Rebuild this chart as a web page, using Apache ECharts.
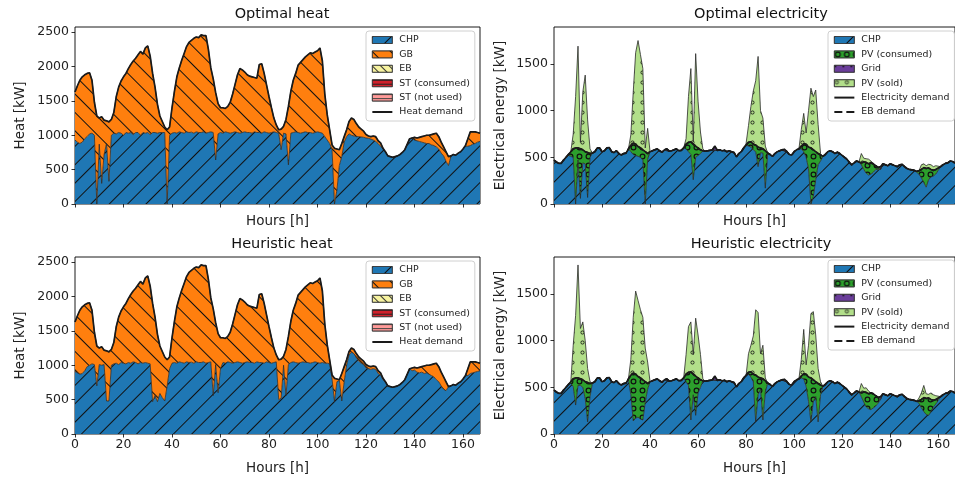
<!DOCTYPE html>
<html><head><meta charset="utf-8">
<script src="https://cdn.jsdelivr.net/npm/echarts@6/dist/echarts.min.js"></script>
<style>html,body{margin:0;padding:0;background:#fff}#c{width:955px;height:477px}</style>
</head><body><div id="c"></div>
<script>
// ---------------- DATA (hour 0..167) ----------------
const hours = Array.from({length: 168}, (_, i) => i);
const xTicks = [0, 20, 40, 60, 80, 100, 120, 140, 160];
const heatTicks = [0, 500, 1000, 1500, 2000, 2500];
const elecTicks = [0, 500, 1000, 1500];

const heatDemand = [
1630,1720,1800,1850,1880,1900,1910,1800,1480,1280,1250,1270,
1220,1210,1195,1230,1330,1560,1700,1790,1850,1900,1970,2030,
2080,2120,2170,2220,2180,2270,2300,2150,1900,1700,1450,1280,
1200,1120,1080,1120,1400,1640,1850,1980,2090,2190,2290,2350,
2380,2410,2430,2420,2460,2450,2450,2250,1980,1820,1620,1460,
1400,1400,1390,1420,1480,1600,1740,1880,1970,1950,1920,1880,
1860,1850,1840,1830,2030,2040,1900,1730,1560,1400,1250,1150,
1080,1090,1130,1230,1420,1640,1800,1900,2020,2060,2100,2140,
2170,2200,2190,2210,2230,2270,2080,1600,1300,1080,860,810,
800,790,880,980,1080,1200,1250,1230,1170,1120,1090,1060,
1010,990,980,990,980,920,890,810,760,700,690,680,
690,700,720,750,790,870,950,960,970,960,970,980,
990,1000,1000,1010,1020,1030,980,900,830,760,690,700,
720,710,740,760,800,850,950,1050,1050,1050,1040,1030];

const chpHeatOpt = [
930,900,880,900,950,980,1020,1030,1000,0,870,300,
720,880,330,1000,1030,1020,1040,1030,1000,1040,1030,1040,
1010,1040,1040,1000,1040,1030,1040,1010,1040,1040,1030,1040,
1040,1040,0,1000,1030,1040,1030,1050,1040,1030,1050,1040,
1045,1030,1050,1040,1040,1050,1030,1040,1050,1040,640,1020,
1040,1030,1050,1040,1030,1040,1050,1040,1030,1040,1050,1040,
1040,1030,1050,1040,1040,1030,1050,1040,1030,1040,1050,1040,
1030,790,1030,1020,570,1030,1040,1050,1040,1030,1040,1050,
1040,1040,1030,1040,1050,1040,1030,980,930,880,790,0,
200,560,690,900,980,1020,1000,990,980,980,975,970,
960,955,945,930,910,880,840,800,760,700,690,680,
690,700,720,750,790,870,950,960,930,920,910,900,
890,880,880,860,850,830,800,740,700,620,560,690,
720,710,740,760,800,840,840,850,870,880,900,910];

const chpHeatHeu = [
910,890,870,880,920,980,1000,1020,1010,700,1010,1000,
1010,480,480,1000,1020,1030,1010,1040,1030,1020,1040,1030,
1050,1040,1020,1040,1030,1040,1030,1020,470,560,470,590,
530,480,700,950,1030,1040,1030,1050,1040,1030,1050,1040,
1045,1030,1050,1040,1040,1050,1030,1040,1050,560,1010,600,
950,1040,1030,1050,1040,1030,1040,1050,1040,1030,1040,1050,
1040,1040,1030,1050,1040,1040,1030,1050,1040,1030,1040,1050,
500,520,1000,560,1010,1040,1050,1040,1030,1040,1050,1040,
1040,1030,1040,1050,1040,1030,1040,1030,1030,1020,800,470,
760,780,480,760,1000,1150,1190,1170,1110,1060,1030,1010,
960,950,940,950,940,880,860,790,760,700,690,680,
690,700,720,750,790,870,950,920,930,900,890,900,
880,890,870,850,830,790,760,700,650,630,690,700,
720,710,740,760,800,850,850,880,890,900,910,920];

const elecDemand = [
470,450,435,435,470,500,530,560,590,600,600,590,
580,560,550,540,545,560,600,600,560,570,600,605,
560,550,570,540,525,540,545,590,630,650,640,615,
600,580,560,540,560,570,580,590,570,555,580,590,
565,570,580,590,570,575,600,640,660,665,640,620,
600,580,570,565,570,575,580,620,575,580,570,575,
560,570,560,550,505,540,560,600,630,660,665,640,
630,610,600,590,570,545,530,510,540,560,570,580,
585,560,530,525,560,580,590,620,645,640,610,600,
580,560,540,525,510,530,560,570,560,540,555,540,
520,500,480,445,420,440,460,450,440,450,445,430,
440,430,410,390,400,430,420,410,430,420,410,400,
420,425,400,380,370,365,360,350,355,370,390,380,
385,370,360,370,385,400,420,435,440,460,455,440];

const chpElecOpt = [
470,450,435,435,470,500,520,510,500,0,470,60,
440,430,70,500,545,560,600,600,560,570,600,605,
560,550,570,540,525,540,545,590,560,530,520,510,
500,470,0,480,560,570,580,590,570,555,580,570,
565,570,580,590,570,575,600,590,560,530,260,500,
520,540,570,565,570,575,580,575,575,580,570,575,
560,570,560,550,505,540,560,600,630,620,610,580,
560,400,550,545,170,545,530,510,540,560,570,580,
565,560,530,525,560,580,590,590,560,500,380,0,
80,260,420,460,510,530,560,570,560,540,555,540,
520,500,480,445,420,440,460,450,420,370,330,310,
320,340,370,370,370,430,420,410,430,420,410,400,
420,425,400,380,370,365,360,340,320,280,230,180,
260,290,300,320,360,400,420,435,440,460,455,440];

const chpElecHeu = [
470,450,435,435,470,500,530,540,510,310,520,520,
500,380,130,400,545,560,600,600,560,570,600,605,
560,550,570,540,525,540,545,580,420,140,170,180,
160,150,340,480,560,570,580,590,570,555,580,570,
565,570,580,590,570,575,600,560,520,150,420,200,
440,500,570,565,570,575,580,575,575,580,570,575,
560,570,560,550,505,540,560,600,630,640,610,560,
130,420,480,150,450,545,530,510,540,560,570,580,
565,560,530,525,560,580,590,600,590,510,350,130,
350,400,130,420,510,530,560,570,560,540,555,540,
520,500,480,445,420,440,460,450,400,340,290,270,
260,280,300,330,370,430,420,410,430,420,410,400,
420,425,400,380,370,365,360,350,330,280,240,210,
200,240,290,320,360,400,420,435,440,460,455,440];

const gridOpt = [
0,0,0,0,0,0,0,0,0,0,0,0,
0,0,0,0,0,0,0,0,0,0,0,0,
0,0,0,0,0,0,0,0,0,0,0,0,
0,0,0,0,0,0,0,0,0,0,0,20,
0,0,0,0,0,0,0,0,0,0,0,0,
0,0,0,0,0,0,0,45,0,0,0,0,
0,0,0,0,0,0,0,0,0,0,0,0,
0,0,0,0,0,0,0,0,0,0,0,0,
20,0,0,0,0,0,0,0,0,0,0,0,
0,0,0,0,0,0,0,0,0,0,0,0,
0,0,0,0,0,0,0,0,0,0,0,0,
0,0,0,0,30,0,0,0,0,0,0,0,
0,0,0,0,0,0,0,0,0,0,0,0,
0,0,0,0,0,0,0,0,0,0,0,0];
const gridHeu = gridOpt.slice();

const pvSoldOpt = [
0,0,0,0,0,0,0,0,160,550,1090,70,
620,820,350,50,0,0,0,0,0,0,0,0,
0,0,0,0,0,0,0,0,110,550,980,1135,
1000,870,40,270,0,0,0,0,0,0,0,0,
0,0,0,0,0,0,0,60,490,785,30,990,
500,190,20,0,0,0,0,0,0,0,0,0,
0,0,0,0,0,0,0,0,20,180,380,570,
690,970,400,330,50,0,0,0,0,0,0,0,
0,0,0,0,0,0,0,180,325,120,390,640,
570,660,310,15,0,0,0,0,0,0,0,0,
0,0,0,0,0,0,0,0,100,40,40,50,
20,0,0,0,0,0,0,0,0,0,0,0,
0,0,0,0,0,0,0,0,0,50,40,30,
40,50,40,40,20,0,0,0,0,0,0,0];

const pvSoldHeu = [
0,0,0,0,0,0,0,0,360,670,1210,540,
620,440,150,20,0,0,0,0,0,0,0,0,
0,0,0,0,0,0,0,0,170,600,890,815,
730,670,360,230,0,0,0,0,0,0,0,0,
0,0,0,0,0,0,0,210,490,535,210,620,
460,270,20,0,0,0,0,0,0,0,0,0,
0,0,0,0,0,0,0,0,0,200,285,410,
700,690,260,360,30,0,0,0,0,0,0,0,
0,0,0,0,0,0,0,180,475,100,340,690,
730,500,160,35,0,0,0,0,0,0,0,0,
0,0,0,0,0,0,0,0,100,40,50,30,
0,0,0,0,0,0,0,0,0,0,0,0,
0,0,0,0,0,0,0,0,30,70,130,50,
40,70,60,40,20,0,0,0,0,0,0,0];

// derived stack layers
const gbOpt = heatDemand.map((d, i) => d - chpHeatOpt[i]);
const gbHeu = heatDemand.map((d, i) => d - chpHeatHeu[i]);
const pvConsOpt = elecDemand.map((d, i) => d - chpElecOpt[i] - gridOpt[i]);
const pvConsHeu = elecDemand.map((d, i) => d - chpElecHeu[i] - gridHeu[i]);

// ---------------- STYLE ----------------
const FONT = 'DejaVu Sans';
const C = {chp:'#1f77b4', gb:'#ff7f0e', eb:'#f7f3a0', stc:'#d0202a', stn:'#ff9a98',
           pvc:'#2ca02c', grid:'#6a3d9a', pvs:'#b2df8a'};
const ring = 'path://M10,0A10,10,0,1,1,10,20A10,10,0,1,1,10,0ZM10,4A6,6,0,1,0,10,16A6,6,0,1,0,10,4Z';
const ringThin = 'path://M10,0A10,10,0,1,1,10,20A10,10,0,1,1,10,0ZM10,3.5A6.5,6.5,0,1,0,10,16.5A6.5,6.5,0,1,0,10,3.5Z';
const D = {
  chp: {symbol:'rect', symbolSize:1, dashArrayX:[1,0], dashArrayY:[1,12], rotation:-Math.PI/4, color:'#111'},
  gb:  {symbol:'rect', symbolSize:1, dashArrayX:[1,0], dashArrayY:[1,12], rotation:Math.PI/4, color:'#111'},
  eb:  {symbol:'rect', symbolSize:1, dashArrayX:[1,0], dashArrayY:[1,5], rotation:Math.PI/4, color:'#333'},
  stc: {symbol:'rect', symbolSize:1, dashArrayX:[1,0], dashArrayY:[1,3], rotation:0, color:'#222'},
  stn: {symbol:'rect', symbolSize:1, dashArrayX:[1,0], dashArrayY:[1,3], rotation:0, color:'#444'},
  pvc: {symbol:ring, symbolSize:0.85, dashArrayX:[7,2], dashArrayY:[7,2], color:'#111'},
  grid:{symbol:'circle', symbolSize:1, dashArrayX:[2,6], dashArrayY:[2,6], color:'#111'},
  pvs: {symbol:ringThin, symbolSize:0.8, dashArrayX:[5,5], dashArrayY:[5,5], color:'#111'}
};

function area(name, arr, k, key, stack) {
  return {
    type:'line', name, xAxisIndex:k, yAxisIndex:k, stack, data: arr,
    symbol:'none', showSymbol:false, animation:false, z:2,
    lineStyle:{width:0.8, color:'#2a2a2a', decal:D[key]},
    itemStyle:{color:C[key], decal:D[key]},
    areaStyle:{color:C[key], opacity:1},
    emphasis:{disabled:true}
  };
}
function line(name, arr, k, dashed) {
  return {
    type:'line', name, xAxisIndex:k, yAxisIndex:k, data: arr,
    symbol:'none', showSymbol:false, animation:false, z:5,
    lineStyle:{width:1.7, color:'#1a1a1a', type: dashed ? [5,3] : 'solid'},
    itemStyle:{color:'#1a1a1a'}, emphasis:{disabled:true}
  };
}
function empty(name, k, key) {
  return {type:'line', name, xAxisIndex:k, yAxisIndex:k, data:[], symbol:'none',
          lineStyle:{width:0.8,color:'#2a2a2a', decal:D[key]}, itemStyle:{color:C[key], decal:D[key]},
          areaStyle:{color:C[key]}};
}

const grids = [
  {left:75, top:27, width:405, height:177},
  {left:554, top:27, width:404, height:177},
  {left:75, top:257, width:405, height:177},
  {left:554, top:257, width:404, height:177}
];

const onTick = (i) => i % 20 === 0;
function xAxis(k, labels) {
  return {type:'category', gridIndex:k, data:hours, boundaryGap:false,
    axisLine:{show:false}, splitLine:{show:false},
    axisTick:{show:true, interval:onTick, length:3.5, lineStyle:{color:'#000', width:0.8}},
    axisLabel:{show:labels, interval:onTick, fontSize:12.5, color:'#222', margin:4, fontFamily:FONT},
    name:'Hours [h]', nameLocation:'middle', nameGap: labels ? 27 : 10,
    nameTextStyle:{fontSize:13.5, color:'#222', fontFamily:FONT}};
}
function yAxis(k, heat) {
  const t = heat ? heatTicks : elecTicks;
  return {type:'value', gridIndex:k, min:0, max: heat ? 2575 : 1895,
    axisLine:{show:false}, splitLine:{show:false},
    axisTick:{show:true, customValues:t, length:3.5, lineStyle:{color:'#000', width:0.8}},
    axisLabel:{customValues:t, formatter:(v) => String(v), fontSize:12.5, color:'#222', margin:6, fontFamily:FONT},
    name: heat ? 'Heat [kW]' : 'Electrical energy [kW]', nameLocation:'middle', nameGap: heat ? 48 : 47,
    nameTextStyle:{fontSize:13.5, color:'#222', fontFamily:FONT}};
}

const rectItem = (name, key) => ({name, icon:'rect',
  itemStyle:{color:C[key], borderColor:'#333', borderWidth:0.7, decal:D[key]}});
const lineItem = (name, dashed) => ({name,
  icon: dashed ? 'path://M0,0H8V2H0ZM12,0H20V2H12Z' : 'path://M0,0H20V2H0Z',
  itemStyle:{color:'#1a1a1a', borderWidth:0}});

function legend(left, top, items) {
  return {orient:'vertical', left, top, itemWidth:20, itemHeight:7, itemGap:2.4,
    padding:[3,5,3,6], backgroundColor:'rgba(255,255,255,0.85)', borderColor:'#d0d0d0', borderWidth:1,
    borderRadius:3, selectedMode:false, symbolKeepAspect:true,
    textStyle:{fontSize:9.4, lineHeight:12, color:'#222', fontFamily:FONT, padding:[0,0,0,2]},
    data: items};
}
const heatItems = [rectItem('CHP','chp'), rectItem('GB','gb'), rectItem('EB','eb'),
  rectItem('ST (consumed)','stc'), rectItem('ST (not used)','stn'), lineItem('Heat demand', false)];
const elecItems = [rectItem('CHP','chp'), rectItem('PV (consumed)','pvc'), rectItem('Grid','grid'),
  rectItem('PV (sold)','pvs'), lineItem('Electricity demand', false), lineItem('EB demand', true)];

function heatSeries(k, chp, gb) {
  const s = 'h' + k;
  return [area('CHP', chp, k, 'chp', s), area('GB', gb, k, 'gb', s),
    empty('EB', k, 'eb'), empty('ST (consumed)', k, 'stc'), empty('ST (not used)', k, 'stn'),
    line('Heat demand', heatDemand, k, false)];
}
function elecSeries(k, chp, pvc, grid, pvs) {
  const s = 'e' + k;
  return [area('CHP', chp, k, 'chp', s), area('PV (consumed)', pvc, k, 'pvc', s),
    area('Grid', grid, k, 'grid', s), area('PV (sold)', pvs, k, 'pvs', s),
    line('Electricity demand', elecDemand, k, false), line('EB demand', elecDemand, k, true)];
}

const titleStyle = {fontSize:14.5, fontWeight:'normal', color:'#111', fontFamily:FONT};
const option = {
  backgroundColor:'#fff',
  animation:false,
  title:[
    {text:'Optimal heat', left:277, top:2, textAlign:'center', textStyle:titleStyle},
    {text:'Optimal electricity', left:756, top:2, textAlign:'center', textStyle:titleStyle},
    {text:'Heuristic heat', left:277, top:232, textAlign:'center', textStyle:titleStyle},
    {text:'Heuristic electricity', left:756, top:232, textAlign:'center', textStyle:titleStyle}
  ],
  grid: grids.map(g => Object.assign({show:true, borderColor:'#000', borderWidth:0.9, backgroundColor:'transparent'}, g)),
  xAxis:[xAxis(0,false), xAxis(1,false), xAxis(2,true), xAxis(3,true)],
  yAxis:[yAxis(0,true), yAxis(1,false), yAxis(2,true), yAxis(3,false)],
  legend:[legend(366,31,heatItems), legend(828,31,elecItems), legend(366,261,heatItems), legend(828,260,elecItems)],
  series:[].concat(
    heatSeries(0, chpHeatOpt, gbOpt),
    elecSeries(1, chpElecOpt, pvConsOpt, gridOpt, pvSoldOpt),
    heatSeries(2, chpHeatHeu, gbHeu),
    elecSeries(3, chpElecHeu, pvConsHeu, gridHeu, pvSoldHeu)
  )
};
const chart = echarts.init(document.getElementById('c'), null, {renderer:'canvas'});
chart.setOption(option);
</script></body></html>
